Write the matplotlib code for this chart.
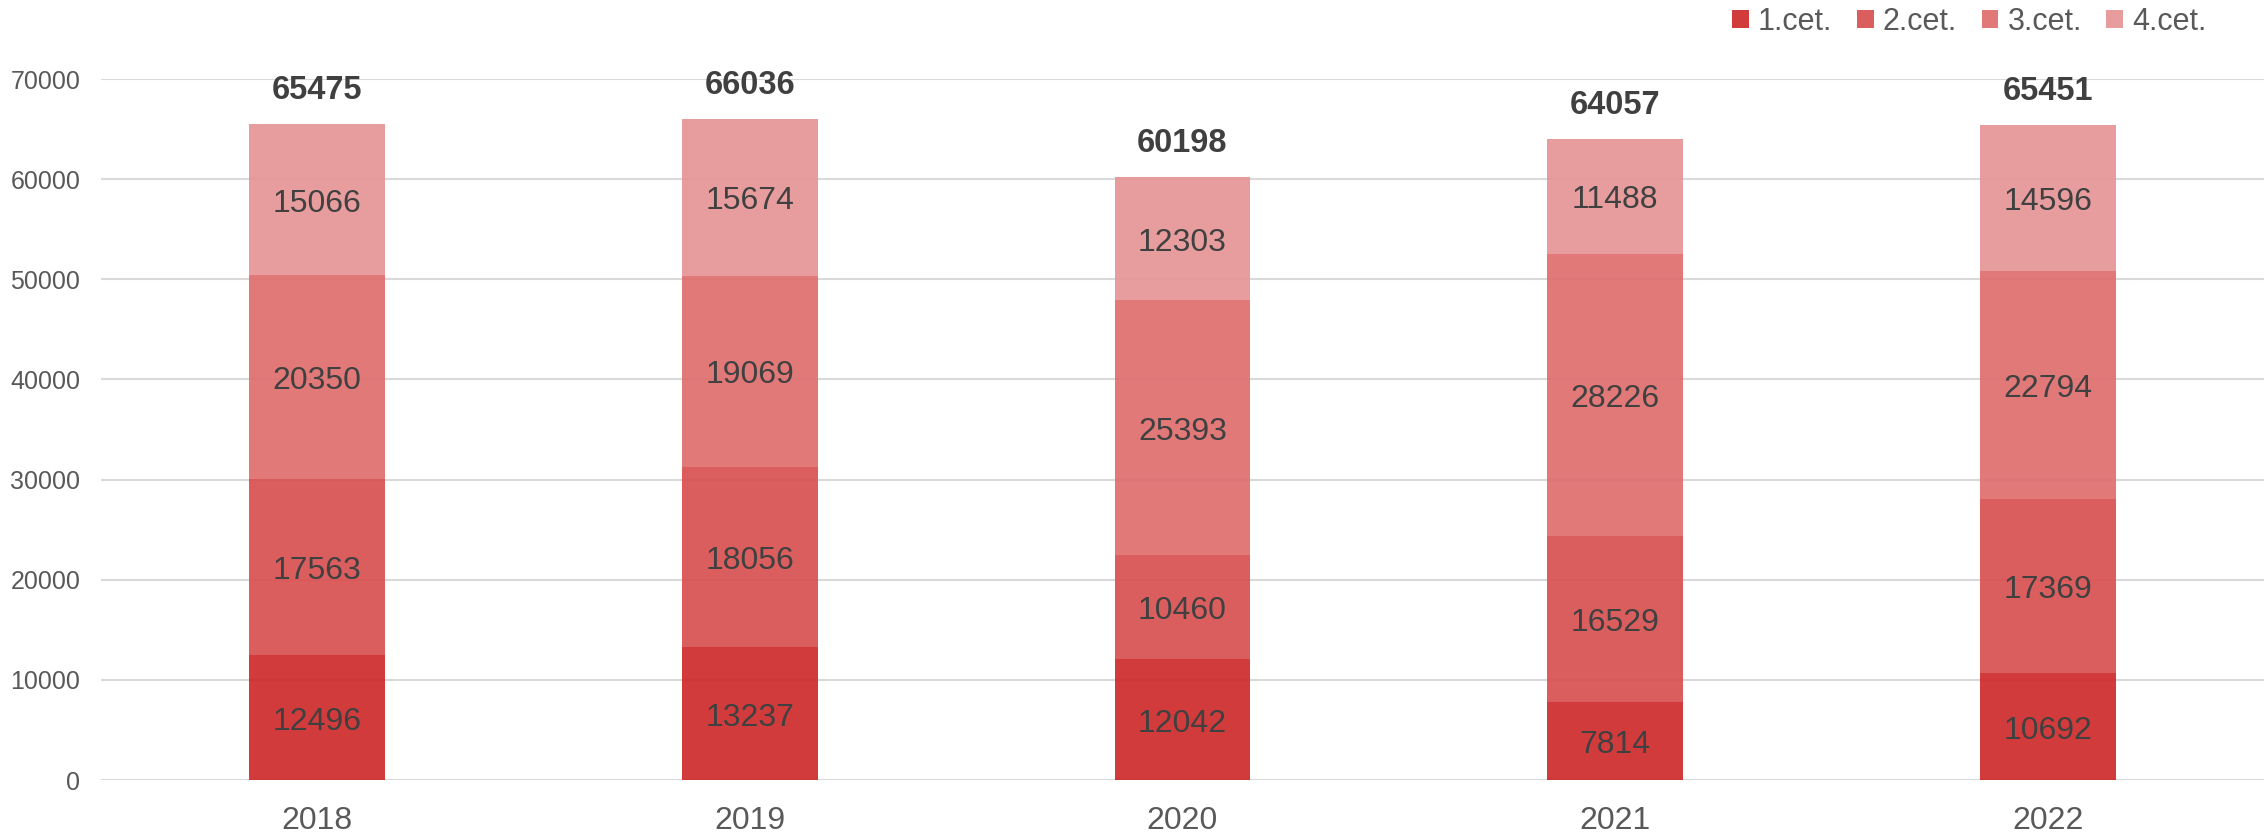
import numpy as np
import matplotlib
matplotlib.use("Agg")
from matplotlib import pyplot as plt
from matplotlib.patches import Patch

plt.rcParams['font.family'] = ['Liberation Sans', 'DejaVu Sans']

years = ['2018', '2019', '2020', '2021', '2022']
series_names = ['1.cet.', '2.cet.', '3.cet.', '4.cet.']
cet1 = [12496, 13237, 12042, 7814, 10692]
cet2 = [17563, 18056, 10460, 16529, 17369]
cet3 = [20350, 19069, 25393, 28226, 22794]
cet4 = [15066, 15674, 12303, 11488, 14596]
totals = [65475, 66036, 60198, 64057, 65451]

colors = ['#ce2525', '#d84c4c', '#de6b6b', '#e59393']
labelColor = '#404040'
tickColor = '#595959'
gridcolor = '#d9d9d9'

fig = plt.figure(figsize=(22.64, 8.36), dpi=100)
ax = fig.add_axes([101/2264, 56/836, 1 - 101/2264, (780-79)/836])

x = np.arange(len(years))
barWidth = 0.314
bottom = np.zeros(len(years))
for vals, col in zip([cet1, cet2, cet3, cet4], colors):
    vals = np.array(vals, dtype=float)
    ax.bar(x, vals, barWidth, bottom=bottom, color=col, alpha=0.9,
           edgecolor='none', zorder=3)
    for xi, b, v in zip(x, bottom, vals):
        ax.annotate(str(int(v)), (xi, b + v/2), xytext=(0, -3),
                    textcoords='offset points', ha='center', va='center',
                    fontsize=23, color=labelColor, zorder=4)
    bottom += vals

for xi, t in zip(x, totals):
    ax.annotate(str(t), (xi, t), xytext=(0, 24), textcoords='offset points',
                ha='center', va='center', fontsize=23.5, fontweight='bold',
                color=labelColor)

ax.set_xlim(-0.5, 4.5)
ax.set_ylim(0, 70000)
ax.set_yticks(np.arange(0, 70001, 10000))
ax.set_xticks(x)
ax.set_xticklabels(years)
ax.tick_params(axis='y', labelsize=18, labelcolor=tickColor, length=0, pad=15)
ax.tick_params(axis='x', labelsize=23, labelcolor=tickColor, length=0, pad=19)
ax.grid(axis='y', color=gridcolor, linestyle='solid', linewidth=1.5, zorder=0)
ax.set_axisbelow(True)
for s in ax.spines.values():
    s.set_visible(False)

handles = [Patch(facecolor=c, alpha=0.9, edgecolor='none') for c in colors]
fig.legend(handles, series_names, loc='upper right', ncol=4, frameon=False,
           bbox_to_anchor=(2222/2264, 1.01), fontsize=22, labelcolor=tickColor,
           handlelength=0.55, handleheight=0.55, handletextpad=0.3,
           columnspacing=0.8, borderaxespad=0.1)

fig.savefig('out.png', dpi=100)
